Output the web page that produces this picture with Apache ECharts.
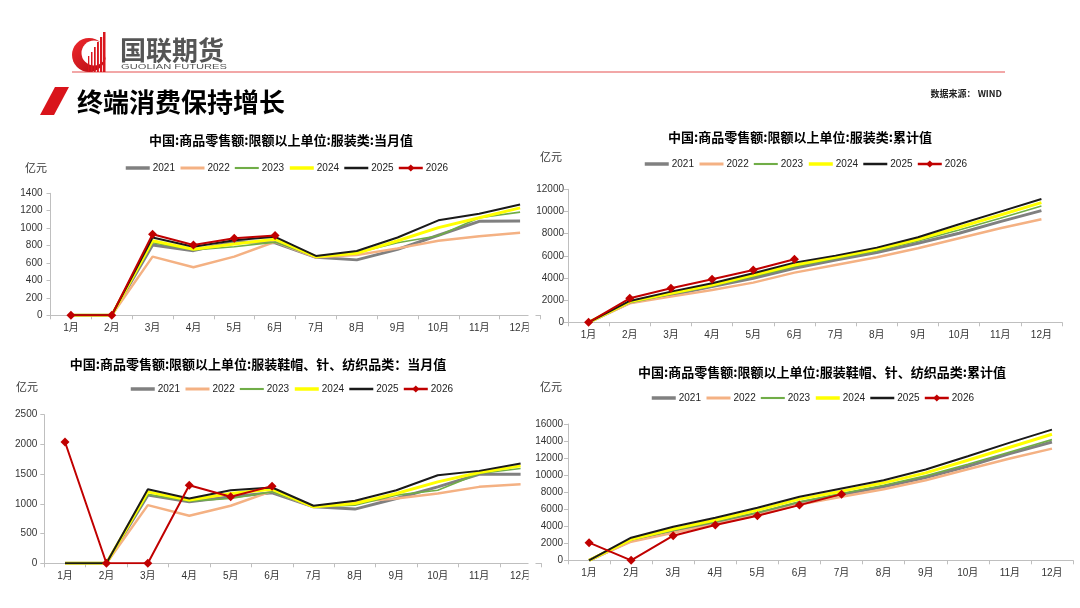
<!DOCTYPE html>
<html><head><meta charset="utf-8">
<script src="https://cdn.jsdelivr.net/npm/echarts@6/dist/echarts.min.js"></script>
<style>html,body{margin:0;padding:0;background:#fff}#c{width:1080px;height:608px}</style>
</head><body><div id="c"></div>
<script>
const months = ['1月','2月','3月','4月','5月','6月','7月','8月','9月','10月','11月','12月'];
const years = ['2021','2022','2023','2024','2025','2026'];

// 服装类 当月值 (亿元)
const c1_2021 = [0,0,806,742,844,832,666,636,757,919,1078,1082];
const c1_2022 = [0,0,673,552,673,844,666,692,768,855,908,946];
const c1_2023 = [0,0,832,749,787,840,673,719,832,912,1120,1184];
const c1_2024 = [0,0,855,757,817,874,673,711,855,1006,1120,1233];
const c1_2025 = [0,0,893,787,862,900,681,738,893,1090,1165,1271];
const c1_2026 = [0,0,930,806,885,915];

// 服装类 累计值
const c2_2021 = [0,1774,2466,3218,3970,4872,5624,6286,7128,8030,9083,10075];
const c2_2022 = [0,1714,2316,2917,3579,4481,5173,5865,6677,7579,8481,9293];
const c2_2023 = [0,1774,2526,3278,4120,5023,5744,6436,7338,8331,9383,10496];
const c2_2024 = [0,1865,2617,3368,4271,5173,5865,6586,7489,8571,9684,10797];
const c2_2025 = [0,1925,2767,3519,4421,5383,6015,6737,7669,8842,9985,11128];
const c2_2026 = [0,2165,3068,3880,4722,5684];

// 服装鞋帽、针、纺织品类 当月值
const c3_2021 = [0,0,1147,1035,1119,1186,951,912,1091,1286,1499,1499];
const c3_2022 = [0,0,979,800,968,1214,951,1035,1091,1174,1286,1331];
const c3_2023 = [0,0,1158,1046,1091,1202,951,979,1147,1230,1510,1594];
const c3_2024 = [0,0,1202,1063,1174,1247,951,1007,1174,1370,1527,1639];
const c3_2025 = [0,0,1247,1091,1230,1275,968,1051,1230,1482,1555,1678];
const c3_2026 = [2041,0,0,1314,1119,1298];

// 服装鞋帽、针、纺织品类 累计值
const c4_2021 = [0,2302,3434,4449,5502,6751,7727,8624,9717,11044,12527,13893];
const c4_2022 = [0,2185,3239,4215,5307,6556,7454,8351,9405,10693,11941,13112];
const c4_2023 = [0,2380,3512,4527,5620,6868,7844,8820,9912,11278,12722,14166];
const c4_2024 = [0,2459,3668,4722,5893,7180,8117,9093,10263,11746,13268,14790];
const c4_2025 = [0,2654,3941,4995,6166,7454,8429,9405,10654,12215,13815,15337];
const c4_2026 = [2068,0,2888,4137,5229,6478,7766];

const yTicks1 = [0, 1400, 200];
const yTicks2 = [0, 12000, 2000];
const yTicks3 = [0, 2500, 500];
const yTicks4 = [0, 16000, 2000];

const chartData = [
  [c1_2021,c1_2022,c1_2023,c1_2024,c1_2025,c1_2026],
  [c2_2021,c2_2022,c2_2023,c2_2024,c2_2025,c2_2026],
  [c3_2021,c3_2022,c3_2023,c3_2024,c3_2025,c3_2026],
  [c4_2021,c4_2022,c4_2023,c4_2024,c4_2025,c4_2026]
];
const yTicks = [yTicks1,yTicks2,yTicks3,yTicks4];

const styles = [
  {color:'#808080', width:3},
  {color:'#f4b183', width:2.5},
  {color:'#70ad47', width:1.6},
  {color:'#ffff00', width:3},
  {color:'#1a1a1a', width:2},
  {color:'#c00000', width:2}
];

const grids = [
  {left:50.5, top:193.3, width:490, height:122},
  {left:568, top:189.3, width:494, height:133},
  {left:44.3, top:414.7, width:497, height:148.6},
  {left:568, top:424, width:505, height:136.3}
];
const legendPos = [
  {left:124, top:163},
  {left:643, top:159},
  {left:129, top:384},
  {left:650, top:393}
];
const labelMargins = [8,4,7,5];

const FONT = '"Liberation Sans","Noto Sans CJK SC",sans-serif';
const CJK = '"Noto Sans CJK SC",sans-serif';

const xAxes = [], yAxes = [], series = [], legends = [];
grids.forEach((g, i) => {
  xAxes.push({
    type:'category', gridIndex:i, data:months, boundaryGap:true,
    axisLine:{lineStyle:{color:'#bfbfbf', width:1}},
    axisTick:{show:true, length:4, lineStyle:{color:'#bfbfbf'}},
    axisLabel:{color:'#333', fontSize:10, fontFamily:FONT, margin:8, interval:0}
  });
  yAxes.push({
    type:'value', gridIndex:i, min:yTicks[i][0], max:yTicks[i][1], interval:yTicks[i][2],
    axisLine:{show:true, lineStyle:{color:'#bfbfbf', width:1}},
    axisTick:{show:true, length:4, lineStyle:{color:'#bfbfbf'}},
    splitLine:{show:false},
    axisLabel:{color:'#333', fontSize:10, fontFamily:FONT, margin:labelMargins[i], formatter: v => String(v)}
  });
  years.forEach((y, k) => {
    const isRed = k === 5;
    series.push({
      type:'line', name:y, xAxisIndex:i, yAxisIndex:i,
      data:chartData[i][k],
      symbol: isRed ? 'diamond' : 'none',
      symbolSize: 9,
      showSymbol: isRed,
      itemStyle:{color:styles[k].color},
      lineStyle:{color:styles[k].color, width:styles[k].width},
      z: 2 + k,
      animation:false
    });
  });
  legends.push({
    left:legendPos[i].left, top:legendPos[i].top, padding:0,
    itemWidth:24, itemHeight:9, itemGap:4,
    data:years.map((y, k) => k === 5
      ? {name:y, lineStyle:{width:2.5}}
      : {name:y, lineStyle:{width:styles[k].width + 0.5}, itemStyle:{opacity:0, color:'rgba(0,0,0,0)', borderWidth:0}}),
    textStyle:{color:'#222', fontSize:10, fontFamily:FONT, padding:[0,0,0,-2]}
  });
});

const titles = [
  {x:281, y:140, t:'中国:商品零售额:限额以上单位:服装类:当月值'},
  {x:800, y:137, t:'中国:商品零售额:限额以上单位:服装类:累计值'},
  {x:258, y:364, t:'中国:商品零售额:限额以上单位:服装鞋帽、针、纺织品类：当月值'},
  {x:822, y:372, t:'中国:商品零售额:限额以上单位:服装鞋帽、针、纺织品类:累计值'}
];
const units = [
  {x:25, y:168}, {x:540, y:157}, {x:16, y:387}, {x:540, y:387}
];

const graphic = [];
titles.forEach(t => graphic.push({
  type:'text', x:t.x, y:t.y, z:10,
  style:{text:t.t, fill:'#000', font:'bold 13px '+CJK, textAlign:'center', textVerticalAlign:'middle'}
}));
units.forEach(u => graphic.push({
  type:'text', x:u.x, y:u.y, z:10,
  style:{text:'亿元', fill:'#333', font:'11px '+CJK, textAlign:'left', textVerticalAlign:'middle'}
}));
// clip of the left charts' right edge
graphic.push({type:'rect', shape:{x:528.5, y:180, width:7, height:420}, style:{fill:'#fff'}, z:50});
// header
graphic.push({type:'line', shape:{x1:72, y1:72, x2:1005, y2:72}, style:{stroke:'#ee8a8a', lineWidth:1.5}, z:10});
graphic.push({type:'polygon', shape:{points:[[55,87],[69,87],[54,115],[40,115]]}, style:{fill:'#d9141b'}, z:10});
graphic.push({type:'text', x:77, y:102, z:10,
  style:{text:'终端消费保持增长', fill:'#000', font:'bold 26px '+CJK, textVerticalAlign:'middle'}});
graphic.push({type:'text', x:1002, y:94, z:10,
  style:{text:'数据来源： WIND', fill:'#222', font:'bold 9px '+CJK, textAlign:'right', textVerticalAlign:'middle'}});
// logo
graphic.push({type:'circle', shape:{cx:89, cy:55, r:17}, style:{fill:{type:'linear',x:0,y:0,x2:1,y2:1,colorStops:[{offset:0,color:'#f0282d'},{offset:1,color:'#b00c12'}]}}, z:10});
graphic.push({type:'circle', shape:{cx:94, cy:53, r:12.5}, style:{fill:'#fff'}, z:11});
[[88,56,1.3],[91,52,1.5],[94,47,1.7],[97,42,1.9],[100,37,2.2],[103,32,2.5]].forEach((b,j) => {
  graphic.push({type:'rect', shape:{x:b[0], y:b[1], width:b[2], height:72-b[1]}, style:{fill:'#d9161d'}, z:12});
});
graphic.push({type:'text', x:120, y:50, z:10,
  style:{text:'国联期货', fill:'#555', font:'bold 26px '+CJK, textVerticalAlign:'middle'}});
const ctx = document.createElement('canvas').getContext('2d');
ctx.font = '8px "Liberation Sans",sans-serif';
const capW = ctx.measureText('GUOLIAN FUTURES').width || 70;
graphic.push({type:'text', x:121, y:67, scaleX:106/capW, z:10,
  style:{text:'GUOLIAN FUTURES', fill:'#555', font:'8px "Liberation Sans",sans-serif', textVerticalAlign:'middle'}});

const chart = echarts.init(document.getElementById('c'), null, {renderer:'canvas'});
chart.setOption({
  backgroundColor:'#fff',
  animation:false,
  grid:grids.map(g => Object.assign({containLabel:false}, g)),
  xAxis:xAxes, yAxis:yAxes, series:series, legend:legends, graphic:graphic
});
</script></body></html>
